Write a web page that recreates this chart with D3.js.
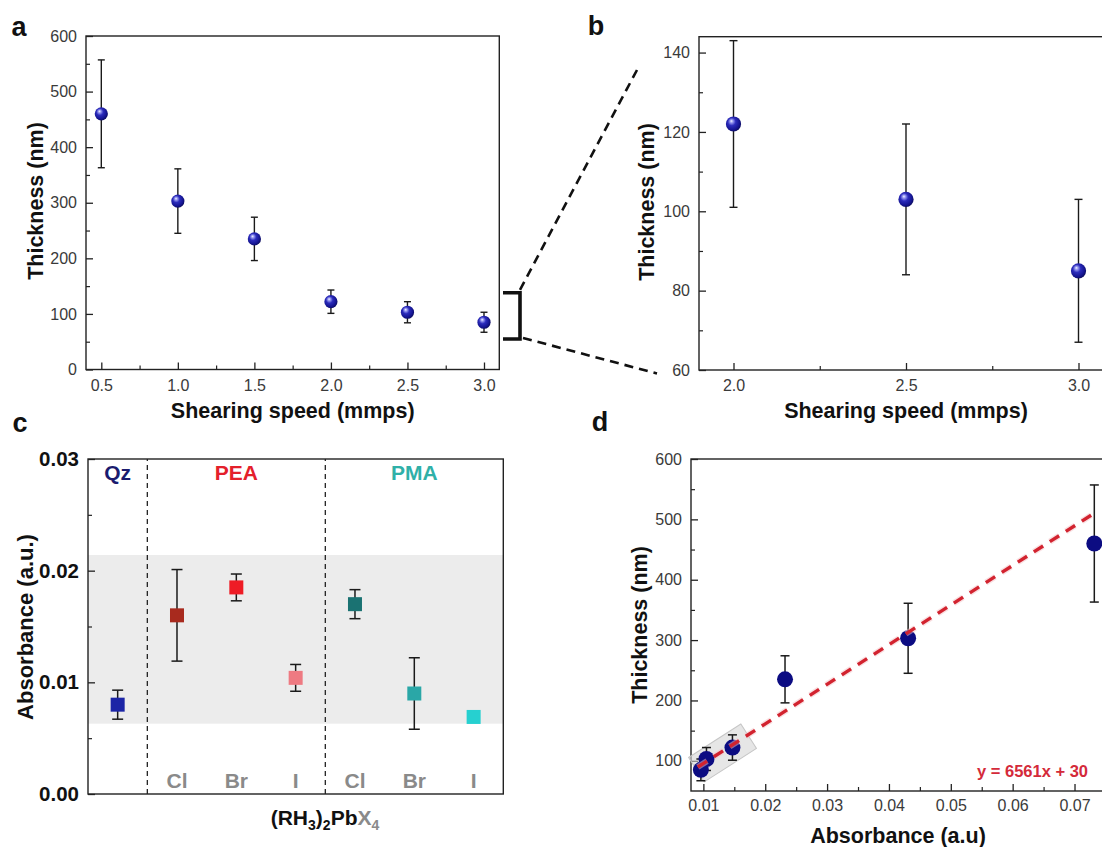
<!DOCTYPE html>
<html>
<head>
<meta charset="utf-8">
<script src="https://cdn.jsdelivr.net/npm/d3@7"></script>
<style>
  html, body { margin: 0; padding: 0; background: #ffffff; }
  svg { display: block; font-family: "Liberation Sans", Arial, Helvetica, sans-serif; }
</style>
</head>
<body>
<svg id="fig" width="1102" height="847"></svg>
<script>
// ---- data ----------------------------------------------------------------
// (a)/(b) film thickness versus shearing speed
const speeds      = [0.5, 1.0, 1.5, 2.0, 2.5, 3.0];
const thickness   = [460, 303, 235, 122, 103, 85];
const thicknessErr = [97, 58, 39, 21, 19, 18];

// (c) absorbance of each film type
const cCategories = ["Qz", "PEA-Cl", "PEA-Br", "PEA-I", "PMA-Cl", "PMA-Br", "PMA-I"];
const cHalides    = ["", "Cl", "Br", "I", "Cl", "Br", "I"];
const cAbsorbance = [0.0080, 0.0160, 0.0185, 0.0104, 0.0170, 0.0090, 0.0069];
const cAbsErr     = [0.0013, 0.0041, 0.0012, 0.0012, 0.0013, 0.0032, 0.0004];
const cColors     = ["#1c25a6", "#a82a1e", "#ee1c25", "#ee7a82", "#1a7272", "#2aa7a7", "#26d0d0"];
const cGroups     = [
  { name: "Qz",  first: "Qz",     last: "Qz",     color: "#1b1b6e" },
  { name: "PEA", first: "PEA-Cl", last: "PEA-I",  color: "#e4202b" },
  { name: "PMA", first: "PMA-Cl", last: "PMA-I",  color: "#2fb0a8" }
];
const cBand = [0.0063, 0.0214];

// (d) thickness versus absorbance, with linear fit y = 6561x + 30
const dAbsorbance = [0.0732, 0.0431, 0.0232, 0.0147, 0.0105, 0.0096];
const fitSlope = 6561, fitIntercept = 30;
const fitRange = [0.0091, 0.0733];
const highlightCenter = [0.0131, 113];

// tick values
const aXMajor = [0.5, 1.0, 1.5, 2.0, 2.5, 3.0];
const aXMinor = [0.75, 1.25, 1.75, 2.25, 2.75];
const aYMajor = [0, 100, 200, 300, 400, 500, 600];
const aYMinor = [50, 150, 250, 350, 450, 550];
const bXMajor = [2.0, 2.5, 3.0];
const bXMinor = [2.25, 2.75];
const bYMajor = [60, 80, 100, 120, 140];
const bYMinor = [70, 90, 110, 130];
const cYMajor = [0.00, 0.01, 0.02, 0.03];
const cYMinor = [0.005, 0.015, 0.025];
const dXMajor = [0.01, 0.02, 0.03, 0.04, 0.05, 0.06, 0.07];
const dXMinor = [0.015, 0.025, 0.035, 0.045, 0.055, 0.065, 0.075];
const dYMajor = [100, 200, 300, 400, 500, 600];
const dYMinor = [150, 250, 350, 450, 550];

// ---- drawing ---------------------------------------------------------------
const svg = d3.select("#fig");
const defs = svg.append("defs");

// glossy sphere fill for panels a and b
const sph = defs.append("radialGradient").attr("id", "sphere")
  .attr("cx", 0.42).attr("cy", 0.42).attr("r", 0.62).attr("fx", 0.36).attr("fy", 0.3);
[[0, "#f2f5ff"], [0.16, "#9a9cf2"], [0.42, "#2c2cbc"], [0.78, "#151592"], [1, "#0a0a58"]]
  .forEach(([o, c]) => sph.append("stop").attr("offset", o).attr("stop-color", c));

const TICK_FONT = 16;

function frame(g, x, y) {
  const [x0, x1] = x.range(), [y0, y1] = y.range();
  g.append("rect")
    .attr("x", x0).attr("y", y1).attr("width", x1 - x0).attr("height", y0 - y1)
    .attr("fill", "none").attr("stroke", "#222").attr("stroke-width", 1.4);
}

function axes(g, x, y, o) {
  const yBase = y.range()[0], xBase = x.range()[0];
  if (o.xMajor) {
    const ax = g.append("g").attr("transform", `translate(0,${yBase})`)
      .call(d3.axisBottom(x).tickValues(o.xMajor).tickSizeInner(-7).tickSizeOuter(0)
        .tickPadding(o.xPad).tickFormat(o.xFmt));
    ax.select(".domain").remove();
    ax.selectAll("line").attr("stroke", "#222").attr("stroke-width", 1.3);
    ax.selectAll("text").attr("font-size", o.font || TICK_FONT).attr("fill", o.textFill || "#3a3a3a")
      .attr("font-weight", o.bold ? "bold" : "normal").attr("font-family", o.family || null);
    const mx = g.append("g").attr("transform", `translate(0,${yBase})`)
      .call(d3.axisBottom(x).tickValues(o.xMinor).tickSizeInner(-4).tickSizeOuter(0).tickFormat(""));
    mx.select(".domain").remove();
    mx.selectAll("line").attr("stroke", "#222").attr("stroke-width", 1.2);
  }
  const ay = g.append("g").attr("transform", `translate(${xBase},0)`)
    .call(d3.axisLeft(y).tickValues(o.yMajor).tickSizeInner(-7).tickSizeOuter(0)
      .tickPadding(o.yPad).tickFormat(o.yFmt));
  ay.select(".domain").remove();
  ay.selectAll("line").attr("stroke", "#222").attr("stroke-width", 1.3);
  ay.selectAll("text").attr("font-size", o.font || TICK_FONT).attr("fill", o.textFill || "#3a3a3a")
    .attr("font-weight", o.bold ? "bold" : "normal");
  const my = g.append("g").attr("transform", `translate(${xBase},0)`)
    .call(d3.axisLeft(y).tickValues(o.yMinor).tickSizeInner(-4).tickSizeOuter(0).tickFormat(""));
  my.select(".domain").remove();
  my.selectAll("line").attr("stroke", "#222").attr("stroke-width", 1.2);
}

function label(text, x, y, size, opts = {}) {
  const t = svg.append("text").attr("x", x).attr("y", y)
    .attr("font-size", size).attr("font-weight", opts.weight || "bold")
    .attr("fill", opts.fill || "#111").attr("text-anchor", opts.anchor || "middle")
    .text(text);
  if (opts.rotate) t.attr("transform", `rotate(${opts.rotate},${x},${y})`);
  return t;
}

function errorBars(g, xs, vals, errs, x, y, cap, width) {
  const w = cap / 2;
  const eb = g.append("g").attr("stroke", "#1a1a1a").attr("stroke-width", width || 1.4).attr("fill", "none");
  xs.forEach((xv, i) => {
    const px = x(xv), lo = y(vals[i] - errs[i]), hi = y(vals[i] + errs[i]);
    eb.append("line").attr("x1", px).attr("x2", px).attr("y1", lo).attr("y2", hi);
    eb.append("line").attr("x1", px - w).attr("x2", px + w).attr("y1", lo).attr("y2", lo);
    eb.append("line").attr("x1", px - w).attr("x2", px + w).attr("y1", hi).attr("y2", hi);
  });
}

const fmt1 = d3.format(".1f");
const fmtInt = d3.format("d");

// ---------------- panel a ----------------
const ax = d3.scaleLinear().domain([0.4, 3.1]).range([86, 499.3]);
const ay = d3.scaleLinear().domain([0, 600]).range([369.5, 36]);
const ga = svg.append("g");
frame(ga, ax, ay);
axes(ga, ax, ay, { xMajor: aXMajor, xMinor: aXMinor, yMajor: aYMajor, yMinor: aYMinor,
  xFmt: fmt1, yFmt: fmtInt, xPad: 10, yPad: 9 });
errorBars(ga, speeds, thickness, thicknessErr, ax, ay, 7, 1.4);
ga.selectAll("circle.pt").data(speeds).join("circle")
  .attr("cx", d => ax(d)).attr("cy", (d, i) => ay(thickness[i])).attr("r", 6.6)
  .attr("fill", "url(#sphere)");
label("a", 19, 36, 27);
label("Thickness (nm)", 43, 201, 21.5, { rotate: -90 });
label("Shearing speed (mmps)", 292.7, 418, 21.5);

// zoom bracket and guide lines linking a to b
const zoomSpan = [55, 138];
svg.append("path")
  .attr("d", `M503,${ay(zoomSpan[1])}H520V${ay(zoomSpan[0])}H503`)
  .attr("fill", "none").attr("stroke", "#111").attr("stroke-width", 3.6);
svg.append("line").attr("x1", 520).attr("y1", ay(zoomSpan[1]) - 3).attr("x2", 637).attr("y2", 70)
  .attr("stroke", "#111").attr("stroke-width", 2.6).attr("stroke-dasharray", "9,6");
svg.append("line").attr("x1", 523).attr("y1", ay(zoomSpan[0]) - 1).attr("x2", 657).attr("y2", 373.5)
  .attr("stroke", "#111").attr("stroke-width", 2.6).attr("stroke-dasharray", "9,6");

// ---------------- panel b ----------------
const bx = d3.scaleLinear().domain([1.9, 3.1]).range([699, 1113]);
const by = d3.scaleLinear().domain([60, 144]).range([370, 36.7]);
const gb = svg.append("g");
frame(gb, bx, by);
axes(gb, bx, by, { xMajor: bXMajor, xMinor: bXMinor, yMajor: bYMajor, yMinor: bYMinor,
  xFmt: fmt1, yFmt: fmtInt, xPad: 10, yPad: 9 });
const bSpeeds = speeds.filter(s => s >= 2.0);
const bIdx = bSpeeds.map(s => speeds.indexOf(s));
errorBars(gb, bSpeeds, bIdx.map(i => thickness[i]), bIdx.map(i => thicknessErr[i]), bx, by, 8, 1.4);
gb.selectAll("circle.pt").data(bSpeeds).join("circle")
  .attr("cx", d => bx(d)).attr("cy", (d, i) => by(thickness[bIdx[i]])).attr("r", 7.6)
  .attr("fill", "url(#sphere)");
label("b", 596, 35, 27);
label("Thickness (nm)", 654, 202, 21.5, { rotate: -90 });
label("Shearing speed (mmps)", 906, 418, 21.5);

// ---------------- panel c ----------------
const cx = d3.scaleBand().domain(cCategories).range([88, 503.3]);
const cy = d3.scaleLinear().domain([0, 0.03]).range([794, 459]);
const gc = svg.append("g");
const cMid = c => cx(c) + cx.bandwidth() / 2;
gc.append("rect")
  .attr("x", cx.range()[0]).attr("width", cx.range()[1] - cx.range()[0])
  .attr("y", cy(cBand[1])).attr("height", cy(cBand[0]) - cy(cBand[1]))
  .attr("fill", "#ececec");
[cGroups[1].first, cGroups[2].first].forEach(c => {
  gc.append("line").attr("x1", cx(c)).attr("x2", cx(c)).attr("y1", cy.range()[0]).attr("y2", cy.range()[1])
    .attr("stroke", "#222").attr("stroke-width", 1.3).attr("stroke-dasharray", "5,4");
});
frame(gc, cx, cy);
axes(gc, cx, cy, { yMajor: cYMajor, yMinor: cYMinor, yFmt: d3.format(".2f"), yPad: 9,
  font: 20.5, bold: true, textFill: "#111" });
errorBars(gc, cCategories, cAbsorbance, cAbsErr, cMid, cy, 11, 1.5);
const SQ = 14;
gc.selectAll("rect.sq").data(cCategories).join("rect").attr("class", "sq")
  .attr("x", d => cMid(d) - SQ / 2).attr("y", (d, i) => cy(cAbsorbance[i]) - SQ / 2)
  .attr("width", SQ).attr("height", SQ).attr("fill", (d, i) => cColors[i]);
cGroups.forEach(gr => {
  const mid = (cx(gr.first) + cx(gr.last) + cx.bandwidth()) / 2;
  label(gr.name, mid, 480, 21, { fill: gr.color });
});
cCategories.forEach((c, i) => {
  if (cHalides[i]) label(cHalides[i], cMid(c), 788, 21, { fill: "#8a8a8a" });
});
label("c", 20, 432, 27);
label("Absorbance (a.u.)", 33, 627, 22, { rotate: -90 });
// (RH3)2PbX4 with subscripts
const formula = svg.append("text").attr("x", 325).attr("y", 825).attr("text-anchor", "middle")
  .attr("font-size", 21).attr("font-weight", "bold").attr("fill", "#111");
formula.append("tspan").text("(RH");
formula.append("tspan").attr("font-size", 14).attr("dy", 5).text("3");
formula.append("tspan").attr("dy", -5).text(")");
formula.append("tspan").attr("font-size", 14).attr("dy", 5).text("2");
formula.append("tspan").attr("dy", -5).text("Pb");
formula.append("tspan").attr("fill", "#8a8a8a").text("X");
formula.append("tspan").attr("fill", "#8a8a8a").attr("font-size", 14).attr("dy", 5).text("4");

// ---------------- panel d ----------------
const dx = d3.scaleLinear().domain([0.008, 0.078]).range([691, 1124]);
const dy = d3.scaleLinear().domain([50, 600]).range([791, 459]);
const gd = svg.append("g");
frame(gd, dx, dy);
axes(gd, dx, dy, { xMajor: dXMajor, xMinor: dXMinor, yMajor: dYMajor, yMinor: dYMinor,
  xFmt: d3.format(".2f"), yFmt: fmtInt, xPad: 9, yPad: 9 });

// highlighted cluster of the three thinnest films, aligned with the fit line
const fitPx = [fitRange[0], fitRange[1]].map(v => [dx(v), dy(fitSlope * v + fitIntercept)]);
const fitAngle = Math.atan2(fitPx[1][1] - fitPx[0][1], fitPx[1][0] - fitPx[0][0]) * 180 / Math.PI;
const hcx = dx(highlightCenter[0]), hcy = dy(highlightCenter[1]);
gd.append("rect").attr("x", -31).attr("y", -14.5).attr("width", 62).attr("height", 29)
  .attr("transform", `translate(${hcx},${hcy}) rotate(${fitAngle})`)
  .attr("fill", "#d6d6d6").attr("fill-opacity", 0.6).attr("stroke", "#c6c6c6").attr("stroke-width", 1);

errorBars(gd, dAbsorbance, thickness, thicknessErr, dx, dy, 9, 1.5);
gd.selectAll("circle.pt").data(dAbsorbance).join("circle")
  .attr("cx", d => dx(d)).attr("cy", (d, i) => dy(thickness[i])).attr("r", 8)
  .attr("fill", "#0c0c82");

const fitLine = d3.line().x(d => dx(d)).y(d => dy(fitSlope * d + fitIntercept));
gd.append("path").datum(fitRange).attr("d", fitLine)
  .attr("fill", "none").attr("stroke", "#f3c2c6").attr("stroke-width", 6).attr("stroke-opacity", 0.5)
  .attr("stroke-dasharray", "11,8");
gd.append("path").datum(fitRange).attr("d", fitLine)
  .attr("fill", "none").attr("stroke", "#d2232f").attr("stroke-width", 3.4)
  .attr("stroke-dasharray", "11,8");
label(`y = ${fitSlope}x + ${fitIntercept}`, 1088, 777, 16.5, { anchor: "end", fill: "#d42a3a" });
label("d", 600, 431, 27);
label("Thickness (nm)", 647, 625, 21.5, { rotate: -90 });
label("Absorbance (a.u)", 898, 843, 21.5);
</script>
</body>
</html>
